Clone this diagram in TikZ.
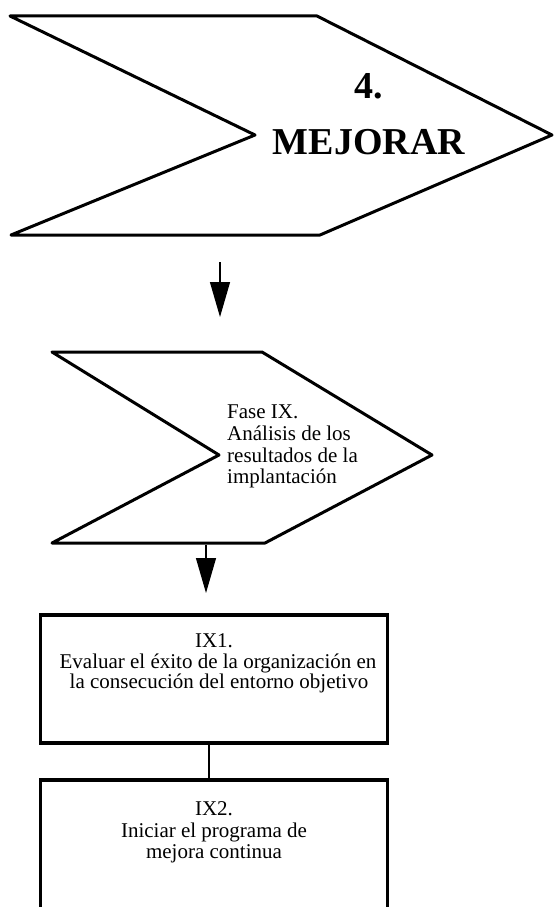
\documentclass[tikz,border=0pt]{standalone}
\usepackage{fontspec}
\setmainfont{Liberation Serif}
\usetikzlibrary{arrows.meta}
\begin{document}
\begin{tikzpicture}[x=1pt,y=-1pt,
  chev/.style={draw, line width=3pt, line join=round},
  frame/.style={draw, line width=3.5pt, inner sep=0pt},
  conn/.style={line width=1.2pt},
  arr/.style={line width=1.2pt, -{Triangle[length=35pt,width=20pt]}},
  body/.style={font=\fontsize{21}{21.5}\selectfont, inner sep=0pt},
  big/.style={font=\fontsize{38}{40}\selectfont\bfseries, inner sep=0pt}]
\useasboundingbox (0,0) rectangle (556,907);
\clip (0,0) rectangle (556,907);
% phase 4 chevron
\draw[chev] (10,16) coordinate (p1a) -- (317,16) coordinate (p1b) -- (552,135) coordinate (p1tip)
  -- (320,235) coordinate (p1c) -- (11,235) coordinate (p1d) -- (255,135) coordinate (p1n) -- cycle;
\node[big, anchor=base] (num) at (369,98) {4.};
\node[big, anchor=base] (mej) at (369,154) {MEJORAR};
% arrow 1
\coordinate (a1s) at (220,262);
\coordinate (a1e) at (220,317);
\draw[arr] (a1s) -- (a1e);
% phase IX chevron
\draw[chev] (52,352) coordinate (p2a) -- (262,352) coordinate (p2b) -- (432,455) coordinate (p2tip)
  -- (265,543) coordinate (p2c) -- (52,543) coordinate (p2d) -- (219,455) coordinate (p2n) -- cycle;
\node[body, anchor=base west] (f1) at (227,418) {Fase IX.};
\node[body, anchor=base west] (f2) at (227,440) {Análisis de los};
\node[body, anchor=base west] (f3) at (227,462) {resultados de la};
\node[body, anchor=base west] (f4) at (227,483) {implantación};
% arrow 2
\coordinate (a2s) at (206,545);
\coordinate (a2e) at (206,593);
\draw[arr] (a2s) -- (a2e);
% box IX1
\node[frame, minimum width=347pt, minimum height=128pt] (b1) at (214,679) {};
\node[body, anchor=base] (b1a) at (214,647) {IX1.};
\node[body, anchor=base] (b1b) at (218,668) {Evaluar el éxito de la organización en};
\node[body, anchor=base] (b1c) at (219,688) {la consecución del entorno objetivo};
% box IX2
\node[frame, minimum width=347pt, minimum height=150pt] (b2) at (214,855) {};
\node[body, anchor=base] (b2a) at (214,815) {IX2.};
\node[body, anchor=base] (b2b) at (214,837) {Iniciar el programa de};
\node[body, anchor=base] (b2c) at (214,858) {mejora continua};
% connector
\draw[conn] ([xshift=-5pt]b1.south) -- ([xshift=-5pt]b2.north);
\end{tikzpicture}
\end{document}
